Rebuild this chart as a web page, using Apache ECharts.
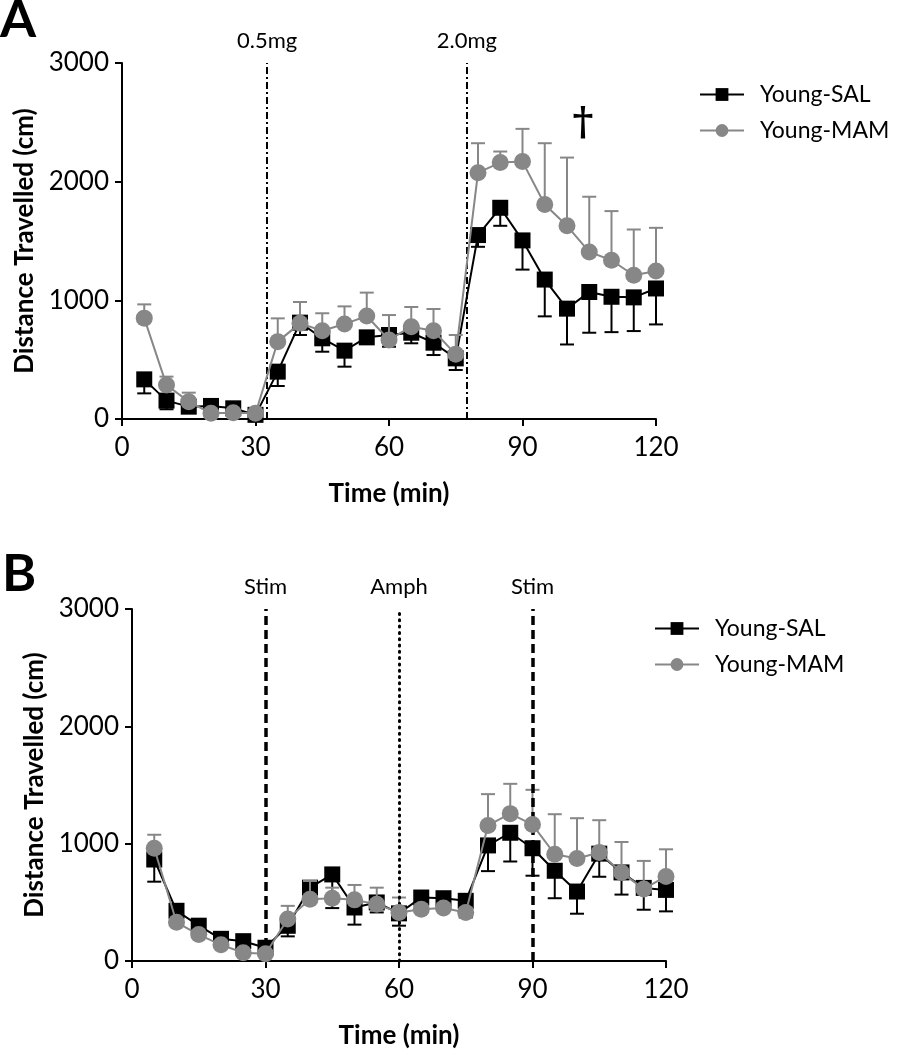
<!DOCTYPE html>
<html>
<head>
<meta charset="utf-8">
<script src="https://cdn.jsdelivr.net/npm/echarts@6/dist/echarts.min.js"></script>
<style>
html,body{margin:0;padding:0;background:#fff;}
#chart{width:907px;height:1050px;}
</style>
</head>
<body>
<div id="chart"></div>
<script>
// ---- Data ----
var time = [5,10,15,20,25,30,35,40,45,50,55,60,65,70,75,80,85,90,95,100,105,110,115,120];
var xTicks = [0,30,60,90,120];
var yTicks = [0,1000,2000,3000];
var seriesNames = ['Young-SAL','Young-MAM'];

// Panel A
var aSal    = [334,155,104,110,90,35,399,812,680,576,688,708,727,643,511,1550,1780,1505,1175,930,1070,1030,1025,1100];
var aSalErr = [118,73,40,15,15,10,121,104,113,135,48,99,89,104,98,99,152,246,310,302,343,298,284,303];
var aMam    = [850,286,146,48,53,48,652,806,744,800,868,666,778,744,545,2076,2161,2169,1808,1628,1408,1338,1211,1248];
var aMamErr = [116,71,76,10,10,10,196,180,147,149,197,210,166,183,163,248,93,276,516,575,465,414,386,363];
var aMarkers = [{t:32.6, label:'0.5mg'},{t:77.5, label:'2.0mg'}];
var aSignif = {t:103.6, v:2480, text:'\u2020'};

// Panel B
var bSal    = [865,428,301,189,169,113,300,625,738,456,499,406,541,535,513,985,1093,961,769,592,915,755,623,606];
var bSalErr = [189,40,30,20,20,20,90,60,287,146,85,105,40,40,141,219,245,234,234,189,197,189,186,183];
var bMam    = [961,330,225,138,70,62,358,527,535,521,484,414,442,451,414,1155,1256,1163,910,873,924,755,614,721];
var bMamErr = [115,20,20,15,10,10,112,155,90,127,141,127,40,40,40,267,254,296,341,344,276,259,239,231];
var bMarkers = [{t:30, label:'Stim', kind:'dash'},{t:60, label:'Amph', kind:'dot'},{t:90, label:'Stim', kind:'dash'}];

// ---- Styling ----
var FONT = 'Lato';
var GREY = '#878787';
var BLACK = '#000000';

function errData(vals, errs, dir){
  return time.map(function(t,i){
    return dir < 0 ? [t, vals[i]-errs[i], vals[i]] : [t, vals[i], vals[i]+errs[i]];
  });
}
function errRender(dir, color){
  return function(params, api){
    var pLow = api.coord([api.value(0), api.value(1)]);
    var pHigh = api.coord([api.value(0), api.value(2)]);
    var x = pLow[0];
    var capY = dir < 0 ? pLow[1] : pHigh[1];
    var hw = 7;
    var st = {stroke: color, lineWidth: 2};
    return {type:'group', children:[
      {type:'line', shape:{x1:x, y1:pLow[1], x2:x, y2:pHigh[1]}, style:st},
      {type:'line', shape:{x1:x-hw, y1:capY, x2:x+hw, y2:capY}, style:st}
    ]};
  };
}
function xAxisDef(idx){
  return {
    gridIndex: idx, type:'value', min:0, max:120, interval:30,
    name:'Time (min)', nameLocation:'middle', nameGap:62,
    nameTextStyle:{fontFamily:FONT, fontSize:26, fontWeight:'bold', color:'#000'},
    axisLine:{show:true, onZero:false, lineStyle:{color:'#000', width:2}},
    axisTick:{show:true, length:7, lineStyle:{color:'#000', width:2}},
    axisLabel:{fontFamily:FONT, fontSize:26, color:'#000', margin:16,
      formatter:function(v){ return xTicks.indexOf(v) >= 0 ? String(v) : ''; }},
    splitLine:{show:false}
  };
}
function yAxisDef(idx){
  return {
    gridIndex: idx, type:'value', min:0, max:3000, interval:1000,
    name:'Distance Travelled (cm)', nameLocation:'middle', nameGap:78,
    nameTextStyle:{fontFamily:FONT, fontSize:26, fontWeight:'bold', color:'#000'},
    axisLine:{show:true, onZero:false, lineStyle:{color:'#000', width:2}},
    axisTick:{show:true, length:7, lineStyle:{color:'#000', width:2}},
    axisLabel:{fontFamily:FONT, fontSize:26, color:'#000', margin:13,
      formatter:function(v){ return yTicks.indexOf(v) >= 0 ? String(v) : ''; }},
    splitLine:{show:false}
  };
}
function lineSeries(name, idx, vals, isSal, markLine, markPoint){
  var s = {
    type:'line', name:name, xAxisIndex:idx, yAxisIndex:idx,
    data: time.map(function(t,i){ return [t, vals[i]]; }),
    symbol: isSal ? 'rect' : 'circle',
    symbolSize: isSal ? 16 : 17,
    showAllSymbol:true,
    itemStyle:{color: isSal ? BLACK : GREY, opacity:1},
    lineStyle:{color: isSal ? BLACK : GREY, width:2},
    z: isSal ? 3 : 5,
    animation:false
  };
  if (markLine) s.markLine = markLine;
  if (markPoint) s.markPoint = markPoint;
  return s;
}
function vLines(list){
  return {
    silent:true, symbol:['none','none'], animation:false,
    data: list.map(function(m){
      var ls;
      if (m.kind === 'dash') ls = {color:'#000', width:3.5, type:[9,5]};
      else if (m.kind === 'dot') ls = {color:'#000', width:3, type:[1,5.3], cap:'round'};
      else ls = {color:'#000', width:2, type:[7,3,2,3]};
      return {xAxis:m.t, lineStyle:ls,
        label:{show:true, position:'end', formatter:m.label, distance:11,
          fontFamily:FONT, fontSize:22, color:'#000'}};
    })
  };
}
function legendDef(left, top){
  return {
    data: seriesNames, orient:'vertical', left:left, top:top,
    itemWidth:44, itemHeight:16, itemGap:13,
    textStyle:{fontFamily:FONT, fontSize:23, color:'#000', padding:[0,0,0,11]},
    selectedMode:false
  };
}

var chart = echarts.init(document.getElementById('chart'), null, {renderer:'canvas'});
var option = {
  backgroundColor:'#fff',
  animation:false,
  grid:[
    {left:122, top:63, width:534, height:356},
    {left:132, top:609, width:534, height:355}
  ],
  xAxis:[xAxisDef(0), xAxisDef(1)],
  yAxis:[yAxisDef(0), yAxisDef(1)],
  legend:[legendDef(694, 78), legendDef(649, 612)],
  graphic:[
    {type:'text', left:0, top:-6, style:{text:'A', fontFamily:FONT, fontWeight:'bold', fontSize:52, fill:'#000'}},
    {type:'text', left:2, top:548, style:{text:'B', fontFamily:FONT, fontWeight:'bold', fontSize:52, fill:'#000'}}
  ],
  series:[
    {type:'custom', name:'errA-SAL', xAxisIndex:0, yAxisIndex:0, renderItem:errRender(-1, BLACK),
      data:errData(aSal, aSalErr, -1), encode:{x:0, y:[1,2]}, z:2, silent:true},
    lineSeries('Young-SAL', 0, aSal, true, vLines(aMarkers)),
    {type:'custom', name:'errA-MAM', xAxisIndex:0, yAxisIndex:0, renderItem:errRender(1, GREY),
      data:errData(aMam, aMamErr, 1), encode:{x:0, y:[1,2]}, z:4, silent:true},
    lineSeries('Young-MAM', 0, aMam, false, null, {
      symbol:'rect', symbolSize:0, silent:true,
      data:[{coord:[aSignif.t, aSignif.v], label:{show:true, formatter:aSignif.text, position:'inside',
        fontFamily:'DejaVu Serif', fontWeight:'bold', fontSize:40, color:'#000'}}]
    }),
    {type:'custom', name:'errB-SAL', xAxisIndex:1, yAxisIndex:1, renderItem:errRender(-1, BLACK),
      data:errData(bSal, bSalErr, -1), encode:{x:0, y:[1,2]}, z:2, silent:true},
    lineSeries('Young-SAL', 1, bSal, true, vLines(bMarkers)),
    {type:'custom', name:'errB-MAM', xAxisIndex:1, yAxisIndex:1, renderItem:errRender(1, GREY),
      data:errData(bMam, bMamErr, 1), encode:{x:0, y:[1,2]}, z:4, silent:true},
    lineSeries('Young-MAM', 1, bMam, false)
  ]
};
chart.setOption(option);
</script>
</body>
</html>
